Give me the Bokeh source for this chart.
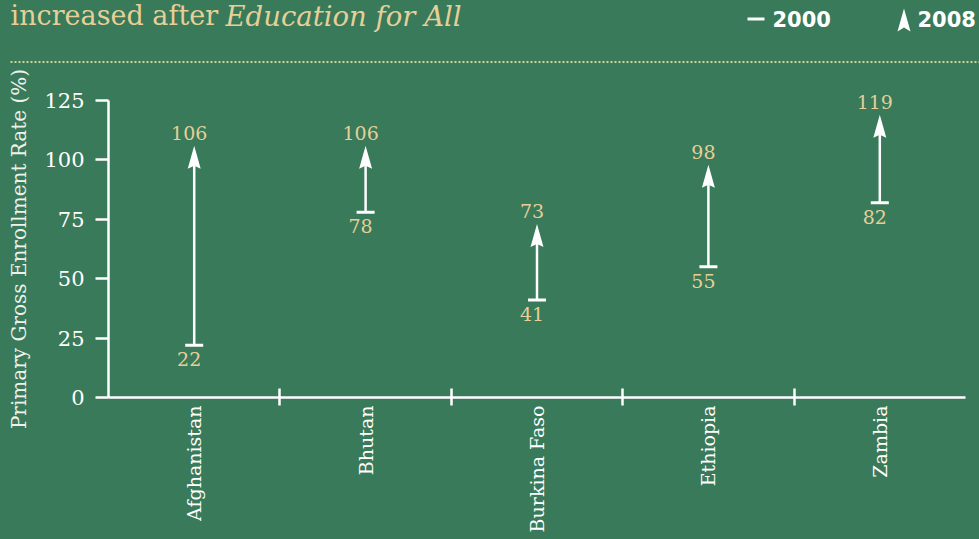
import math
from bokeh.plotting import figure
from bokeh.layouts import column
from bokeh.models import Range1d, FixedTicker, LinearAxis
from bokeh.core.properties import value
from bokeh.embed import file_html
from bokeh.resources import INLINE

# ---- data ----
countries = ["Afghanistan", "Bhutan", "Burkina Faso", "Ethiopia", "Zambia"]
rate_2000 = [22, 78, 41, 55, 82]
rate_2008 = [106, 106, 73, 98, 119]
y_ticks = [0, 25, 50, 75, 100, 125]
legend_labels = ["2000", "2008"]
title_plain = "increased after"
title_italic = "Education for All"
y_title = "Primary Gross Enrollment Rate (%)"

# ---- style ----
BG = "#387A59"
TAN = "#E6CF98"
DOTS = "#CFD39A"
WHITE = "#FFFFFF"
SERIF = "DejaVu Serif"
SANS = "DejaVu Sans"

W = 979
PAGE_H = 539
HEAD_H = 70
MAIN_H = PAGE_H - HEAD_H
LEFT, RIGHT, TOP, BOTTOM = 108, 14, 30, 142

# ---------------- header (title + legend + dotted rule) ----------------
head = figure(width=W, height=HEAD_H, x_range=Range1d(LEFT, W - RIGHT), y_range=Range1d(HEAD_H, 0),
              output_backend="svg", toolbar_location=None,
              x_axis_type=None, y_axis_type=None,
              min_border_left=LEFT, min_border_right=RIGHT, min_border_top=0, min_border_bottom=0,
              styles={"background-color": BG})
head.grid.visible = False
head.outline_line_color = None
head.background_fill_color = BG
head.border_fill_color = BG

head.text(x=[10], y=[15], text=[title_plain], text_font=value(SERIF), text_font_size="27px",
          text_color=TAN, text_baseline="middle", text_align="left", level="overlay")
head.text(x=[225], y=[15], text=[title_italic], text_font=value(SERIF), text_font_size="27.5px",
          text_font_style="italic", text_color=TAN, text_baseline="middle", text_align="left",
          level="overlay")

# legend: 2000 = bar, 2008 = arrow head
head.segment(x0=[747], y0=[18.5], x1=[764], y1=[18.5], line_color=WHITE, line_width=3, level="overlay")
head.text(x=[772], y=[18.5], text=[legend_labels[0]], text_font=value(SANS), text_font_style="bold",
          text_font_size="21px", text_color=WHITE, text_baseline="middle", level="overlay")
head.patch(x=[903.5, 910, 903.5, 897], y=[8, 31, 27, 31], color=WHITE, line_width=0, level="overlay")
head.text(x=[917], y=[18.5], text=[legend_labels[1]], text_font=value(SANS), text_font_style="bold",
          text_font_size="21px", text_color=WHITE, text_baseline="middle", level="overlay")

head.line(x=[10, W], y=[61.5, 61.5], line_color=DOTS, line_width=2, line_dash="2 2", level="overlay")

# ---------------- main chart ----------------
frame_w = W - LEFT - RIGHT
frame_h = MAIN_H - TOP - BOTTOM
Y_END = 125
X_START, X_END = -0.5, len(countries) - 0.5

main = figure(width=W, height=MAIN_H, x_range=Range1d(X_START, X_END), y_range=Range1d(0, Y_END),
              output_backend="svg", toolbar_location=None,
              x_axis_type=None, y_axis_type=None,
              min_border_left=LEFT, min_border_right=RIGHT, min_border_top=TOP,
              min_border_bottom=BOTTOM, styles={"background-color": BG})
main.grid.visible = False
main.outline_line_color = None
main.background_fill_color = BG
main.border_fill_color = BG

xs = list(range(len(countries)))

yaxis = LinearAxis(ticker=FixedTicker(ticks=y_ticks), bounds=(0, 125), axis_label=y_title)
yaxis.axis_line_color = WHITE
yaxis.axis_line_width = 2.5
yaxis.major_tick_line_color = WHITE
yaxis.major_tick_line_width = 2.5
yaxis.major_tick_in = 0
yaxis.major_tick_out = 13
yaxis.minor_tick_line_color = None
yaxis.major_label_standoff = 11
yaxis.major_label_text_font = SERIF
yaxis.major_label_text_font_size = "21px"
yaxis.major_label_text_color = WHITE
yaxis.axis_label_text_font = SERIF
yaxis.axis_label_text_font_style = "normal"
yaxis.axis_label_text_font_size = "20px"
yaxis.axis_label_text_color = "#EEF2EC"
yaxis.axis_label_standoff = 10
main.add_layout(yaxis, "left")

xaxis = LinearAxis(ticker=FixedTicker(ticks=xs, minor_ticks=[i + 0.5 for i in xs[:-1]]),
                   major_label_overrides={i: c for i, c in zip(xs, countries)})
xaxis.axis_line_color = WHITE
xaxis.axis_line_width = 2.5
xaxis.major_tick_line_color = None
xaxis.major_tick_in = 0
xaxis.major_tick_out = 0
xaxis.minor_tick_line_color = WHITE
xaxis.minor_tick_line_width = 2.5
xaxis.minor_tick_in = 9
xaxis.minor_tick_out = 8
xaxis.major_label_standoff = 0
xaxis.major_label_orientation = math.pi / 2
xaxis.major_label_text_font = SERIF
xaxis.major_label_text_font_size = "19px"
xaxis.major_label_text_color = WHITE
main.add_layout(xaxis, "below")

# arrow geometry (pixels -> data units)
ux = (X_END - X_START) / frame_w
uy = Y_END / frame_h
head_len = 23 * uy
notch = 20 * uy
half_w = 6.5 * ux

main.segment(x0=xs, y0=rate_2000, x1=xs, y1=[v - notch for v in rate_2008],
             line_color=WHITE, line_width=2.5)
main.scatter(x=xs, y=rate_2000, marker="dash", size=18, line_color=WHITE, line_width=3)
main.patches(xs=[[x, x + half_w, x, x - half_w] for x in xs],
             ys=[[v, v - head_len, v - notch, v - head_len] for v in rate_2008],
             fill_color=WHITE, line_color=None)

main.text(x=xs, y=rate_2008, text=[str(v) for v in rate_2008], x_offset=-5, y_offset=-13,
          text_align="center", text_baseline="middle", text_font=value(SERIF),
          text_font_size="19px", text_color=TAN, level="overlay")
main.text(x=xs, y=rate_2000, text=[str(v) for v in rate_2000], x_offset=-5, y_offset=14,
          text_align="center", text_baseline="middle", text_font=value(SERIF),
          text_font_size="19px", text_color=TAN, level="overlay")

layout = column(head, main, styles={"background-color": BG})

open("out.html", "w").write(file_html(layout, INLINE))
